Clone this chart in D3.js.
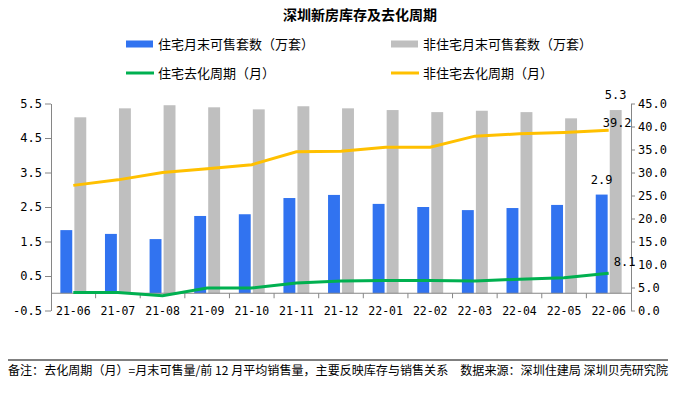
<!DOCTYPE html>
<html>
<head>
<meta charset="utf-8">
<script src="https://cdn.jsdelivr.net/npm/d3@7"></script>
<style>
  body { margin: 0; background: #fff; }
  svg { display: block; }
</style>
</head>
<body>
<script>
const months = ["21-06", "21-07", "21-08", "21-09", "21-10", "21-11", "21-12", "22-01", "22-02", "22-03", "22-04", "22-05", "22-06"];
// 万套
const resStock = [1.83, 1.72, 1.57, 2.24, 2.29, 2.76, 2.85, 2.59, 2.50, 2.41, 2.47, 2.56, 2.86];
const nonResStock = [5.10, 5.36, 5.45, 5.39, 5.33, 5.42, 5.36, 5.31, 5.25, 5.29, 5.25, 5.07, 5.31];
// 月
const resCycle = [3.9, 3.9, 3.2, 4.9, 4.9, 6.0, 6.4, 6.5, 6.5, 6.4, 6.8, 7.1, 8.1];
const nonResCycle = [27.2, 28.4, 30.0, 30.8, 31.7, 34.5, 34.6, 35.5, 35.5, 37.9, 38.4, 38.7, 39.2];
const leftTicks = [-0.5, 0.5, 1.5, 2.5, 3.5, 4.5, 5.5];
const rightTicks = [0, 5, 10, 15, 20, 25, 30, 35, 40, 45];

const W = 678, H = 394;
const cjk = "'Noto Sans CJK SC', 'Noto Sans', sans-serif";
const mono = "'DejaVu Sans Mono', monospace";
const blue = "#3173f0", gray = "#bfbfbf", green = "#00b050", yellow = "#ffc000", axisCol = "#868686";

const svg = d3.select("body").append("svg").attr("width", W).attr("height", H);

const x = d3.scaleBand().domain(months).range([51, 631]);
const sub = d3.scaleBand().domain(["res", "non"]).range([0, x.bandwidth()])
    .paddingInner(0.15).paddingOuter(0.668);
const yL = d3.scaleLinear().domain([-0.5, 5.5]).range([310.5, 103.5]);
const yR = d3.scaleLinear().domain([0, 45]).range([310.5, 103.5]);
const fmt = v => v.toFixed(1).replace("\u2212", "-");

// title
svg.append("text").attr("x", 360).attr("y", 20).attr("text-anchor", "middle")
    .style("font-family", cjk).style("font-size", "14px").style("font-weight", "bold")
    .text("深圳新房库存及去化周期");

// legend
const legend = [
    {label: "住宅月末可售套数（万套）", color: blue, type: "rect", x: 126, y: 44},
    {label: "非住宅月末可售套数（万套）", color: gray, type: "rect", x: 391, y: 44},
    {label: "住宅去化周期（月）", color: green, type: "line", x: 126, y: 73},
    {label: "非住宅去化周期（月）", color: yellow, type: "line", x: 391, y: 73}
];
legend.forEach(d => {
    if (d.type === "rect") {
        svg.append("rect").attr("x", d.x).attr("y", d.y - 3.5).attr("width", 27).attr("height", 7).attr("fill", d.color);
    } else {
        svg.append("line").attr("x1", d.x).attr("x2", d.x + 28).attr("y1", d.y).attr("y2", d.y)
            .attr("stroke", d.color).attr("stroke-width", 3);
    }
    svg.append("text").attr("x", d.x + 32).attr("y", d.y + 4.5)
        .style("font-family", cjk).style("font-size", "13px").text(d.label);
});

// bars
const bars = svg.append("g");
bars.selectAll(".res").data(resStock).join("rect")
    .attr("x", (d, i) => x(months[i]) + sub("res")).attr("width", sub.bandwidth())
    .attr("y", d => yL(d)).attr("height", d => yL(0) - yL(d)).attr("fill", blue);
bars.selectAll(".non").data(nonResStock).join("rect")
    .attr("x", (d, i) => x(months[i]) + sub("non")).attr("width", sub.bandwidth())
    .attr("y", d => yL(d)).attr("height", d => yL(0) - yL(d)).attr("fill", gray);

// axes
const styleAxis = g => {
    g.selectAll("path, line").attr("stroke", axisCol);
    g.selectAll("text").style("font-family", mono).style("font-size", "12px").attr("fill", "#000");
};
svg.append("g").attr("transform", "translate(51,0)")
    .call(d3.axisLeft(yL).tickValues(leftTicks).tickFormat(fmt).tickSize(6).tickSizeOuter(0).tickPadding(3))
    .call(styleAxis);
svg.append("g").attr("transform", "translate(631,0)")
    .call(d3.axisRight(yR).tickValues(rightTicks).tickFormat(fmt).tickSize(4).tickSizeOuter(0).tickPadding(3))
    .call(styleAxis);

const xAxis = svg.append("g").attr("transform", `translate(0,${yL(0)})`);
xAxis.append("line").attr("x1", 51).attr("x2", 631).attr("stroke", axisCol);
xAxis.selectAll(".tk").data(months.slice(1)).join("line")
    .attr("x1", d => x(d)).attr("x2", d => x(d)).attr("y1", 0).attr("y2", 5).attr("stroke", axisCol);
xAxis.selectAll(".lb").data(months).join("text")
    .attr("x", d => x(d) + x.bandwidth() / 2).attr("y", 22).attr("text-anchor", "middle")
    .style("font-family", mono).style("font-size", "11.5px").text(d => d);

// lines
const lineR = d3.line().x((d, i) => x(months[i]) + x.bandwidth() / 2).y(d => yR(d));
svg.append("path").datum(resCycle).attr("d", lineR).attr("fill", "none")
    .attr("stroke", green).attr("stroke-width", 3);
svg.append("path").datum(nonResCycle).attr("d", lineR).attr("fill", "none")
    .attr("stroke", yellow).attr("stroke-width", 3);

// data labels on last point
const last = months.length - 1;
const lab = (tx, ty, t, anchor) => svg.append("text").attr("x", tx).attr("y", ty).attr("text-anchor", anchor || "middle")
    .style("font-family", mono).style("font-size", "12px").text(t);
lab(x(months[last]) + sub("res") + sub.bandwidth() / 2, yL(resStock[last]) - 11, fmt(resStock[last]));
lab(x(months[last]) + sub("non") + sub.bandwidth() / 2, yL(nonResStock[last]) - 11, fmt(nonResStock[last]));
const cx = x(months[last]) + x.bandwidth() / 2;
lab(cx - 6, yR(nonResCycle[last]) - 3, fmt(nonResCycle[last]), "start");
lab(cx + 5, yR(resCycle[last]) - 7, fmt(resCycle[last]), "start");

// footnote
svg.append("line").attr("x1", 8).attr("x2", 668).attr("y1", 360).attr("y2", 360).attr("stroke", "#000");
svg.append("text").attr("x", 8).attr("y", 375).attr("textLength", 660).attr("lengthAdjust", "spacingAndGlyphs")
    .style("font-family", cjk).style("font-size", "12px")
    .text("备注：去化周期（月）=月末可售量/前 12 月平均销售量，主要反映库存与销售关系　数据来源：深圳住建局 深圳贝壳研究院");
</script>
</body>
</html>
